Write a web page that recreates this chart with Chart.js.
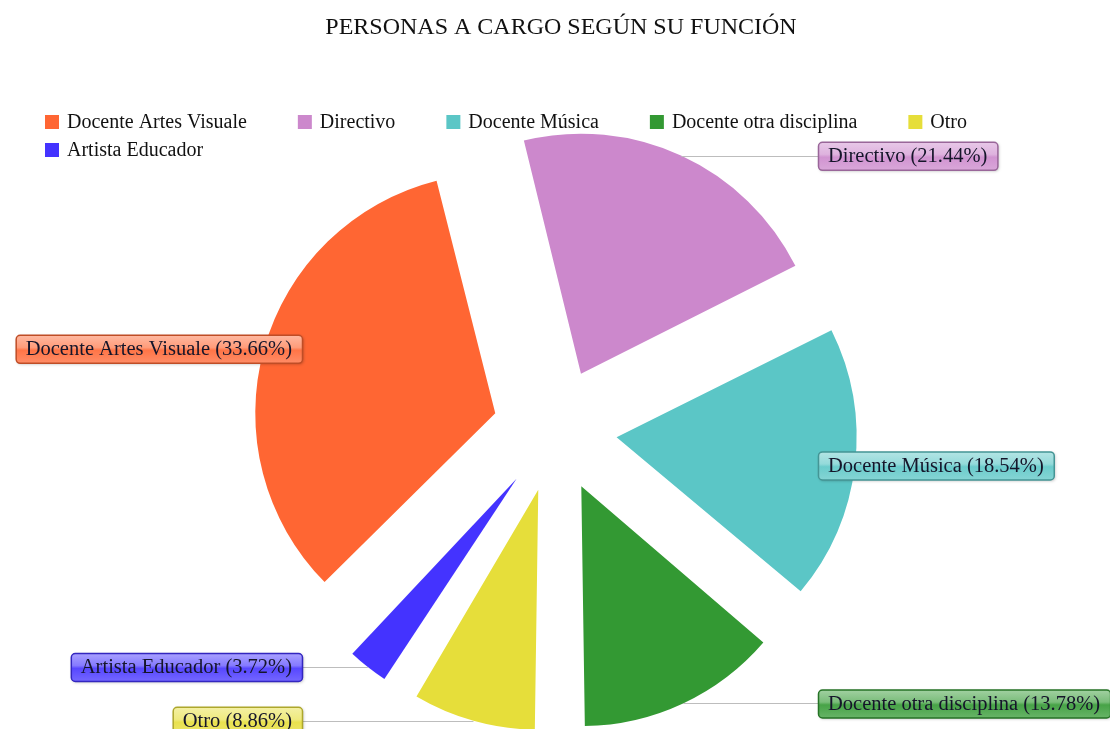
<!DOCTYPE html>
<html><head><meta charset="utf-8">
<script src="https://cdn.jsdelivr.net/npm/chart.js@4.4.1/dist/chart.umd.min.js"></script>
<style>html,body{margin:0;padding:0;background:#fff}#wrap{width:1110px;height:729px;position:relative}</style>
</head><body><div id="wrap"><canvas id="c"></canvas></div>
<script>
const chartTitle = 'PERSONAS A CARGO SEGÚN SU FUNCIÓN';
const categories = ['Docente Artes Visuale', 'Directivo', 'Docente Música', 'Docente otra disciplina', 'Otro', 'Artista Educador'];
const percentages = [33.66, 21.44, 18.54, 13.78, 8.86, 3.72];
const colors = ['#FF6633', '#CC88CC', '#5BC6C6', '#339933', '#E6DE3A', '#4433FF'];

const FONT = '"Liberation Serif", "Times New Roman", serif';
const OFFSET = 248;      // Chart.js translates arcs by offset/4
const RADIUS = 240;

function mix(hex, t, target) {
  const n = parseInt(hex.slice(1), 16);
  let r = (n >> 16) & 255, g = (n >> 8) & 255, b = n & 255;
  r = Math.round(r + (target - r) * t); g = Math.round(g + (target - g) * t); b = Math.round(b + (target - b) * t);
  return `rgb(${r},${g},${b})`;
}

const fixRadius = {
  id: 'fixRadius',
  beforeDatasetsDraw(chart) {
    const meta = chart.getDatasetMeta(0);
    const base = meta.controller.outerRadius;
    meta.data.forEach(arc => {
      const fix = 1 - Math.sin(Math.min(Math.PI, arc.circumference));
      arc.outerRadius = base - (OFFSET / 4) * fix;
    });
  }
};

const decorations = {
  id: 'decorations',
  afterDraw(chart) {
    const ctx = chart.ctx;
    ctx.save();
    // title
    ctx.fillStyle = '#111';
    ctx.font = '24px ' + FONT;
    ctx.textAlign = 'center';
    ctx.textBaseline = 'middle';
    ctx.fillText(chartTitle, chart.width / 2 + 6, 28);

    // legend
    ctx.font = '20px ' + FONT;
    ctx.textAlign = 'left';
    let lx = 45, ly = 122;
    categories.forEach((c, i) => {
      const tw = ctx.measureText(c).width;
      const iw = 14 + 8 + tw;
      if (lx + iw > chart.width - 10) { lx = 45; ly += 28; }
      ctx.fillStyle = colors[i];
      ctx.fillRect(lx, ly - 7, 14, 14);
      ctx.fillStyle = '#111';
      ctx.fillText(c, lx + 22, ly + 1);
      lx += iw + 51;
    });

    // callout labels
    const meta = chart.getDatasetMeta(0);
    const shift = OFFSET / 4;
    meta.data.forEach((arc, i) => {
      const mid = (arc.startAngle + arc.endAngle) / 2;
      const px = arc.x + Math.cos(mid) * (shift + RADIUS);
      const py = arc.y + Math.sin(mid) * (shift + RADIUS);
      const right = Math.cos(mid) >= 0;
      const text = `${categories[i]} (${percentages[i].toFixed(2)}%)`;
      ctx.font = '20.5px ' + FONT;
      const w = ctx.measureText(text).width + 20, h = 28;
      const bx = right ? 818 : 302 - w;
      const by = py - h / 2;
      ctx.strokeStyle = '#bdbdbd';
      ctx.lineWidth = 1;
      ctx.beginPath();
      ctx.moveTo(px, Math.round(py) + 0.5);
      ctx.lineTo(right ? bx : bx + w, Math.round(py) + 0.5);
      ctx.stroke();
      // box
      ctx.save();
      ctx.shadowColor = 'rgba(0,0,0,0.25)';
      ctx.shadowBlur = 3; ctx.shadowOffsetX = 1; ctx.shadowOffsetY = 1;
      const g = ctx.createLinearGradient(0, by, 0, by + h);
      g.addColorStop(0, mix(colors[i], 0.55, 255));
      g.addColorStop(0.45, mix(colors[i], 0.35, 255));
      g.addColorStop(0.55, mix(colors[i], 0.1, 255));
      g.addColorStop(1, mix(colors[i], 0.25, 255));
      ctx.fillStyle = g;
      ctx.beginPath();
      ctx.roundRect(bx + 0.5, by + 0.5, w, h, 4);
      ctx.fill();
      ctx.restore();
      ctx.strokeStyle = mix(colors[i], 0.25, 0);
      ctx.lineWidth = 1.5;
      ctx.beginPath();
      ctx.roundRect(bx + 0.5, by + 0.5, w, h, 4);
      ctx.stroke();
      ctx.fillStyle = '#15152a';
      ctx.textAlign = 'left';
      ctx.textBaseline = 'middle';
      ctx.fillText(text, bx + 10, py + 1);
    });
    ctx.restore();
  }
};

new Chart(document.getElementById('c'), {
  type: 'pie',
  data: {
    labels: categories,
    datasets: [{
      data: percentages,
      backgroundColor: colors,
      borderWidth: 0,
      offset: OFFSET
    }]
  },
  options: {
    responsive: true,
    maintainAspectRatio: false,
    animation: false,
    events: [],
    rotation: 225,
    radius: RADIUS,
    layout: { padding: { top: 131, bottom: 0, left: 0, right: 0 } },
    plugins: { legend: { display: false }, title: { display: false }, tooltip: { enabled: false } }
  },
  plugins: [fixRadius, decorations]
});
</script>
</body></html>
